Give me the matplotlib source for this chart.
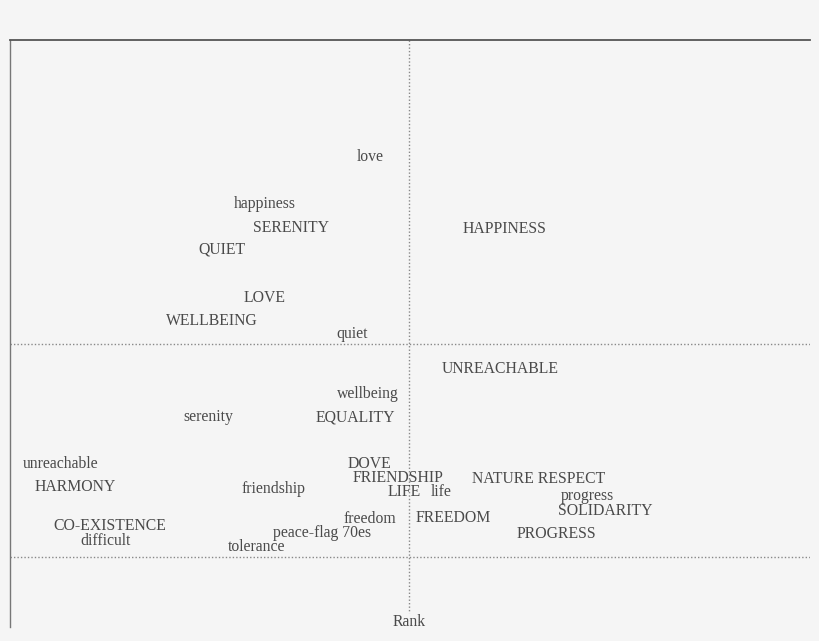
import numpy as np
import matplotlib
matplotlib.use('Agg')
import matplotlib.pyplot as plt

# word labels and their positions on the map
words = ['love', 'happiness', 'SERENITY', 'QUIET', 'HAPPINESS', 'LOVE', 'WELLBEING', 'quiet',
         'UNREACHABLE', 'wellbeing', 'serenity', 'EQUALITY',
         'unreachable', 'HARMONY', 'DOVE', 'FRIENDSHIP', 'LIFE', 'life', 'friendship',
         'NATURE RESPECT', 'progress', 'SOLIDARITY', 'CO-EXISTENCE', 'difficult',
         'freedom', 'FREEDOM', 'peace-flag 70es', 'tolerance', 'PROGRESS']
wx = [370, 265, 291, 222, 505, 265, 212, 352,
      500, 368, 208, 355,
      61, 75, 369, 398, 404, 441, 274,
      539, 587, 605, 110, 106,
      370, 453, 322, 257, 556]
wy = [157, 204, 228, 250, 229, 298, 321, 334,
      369, 394, 417, 417,
      464, 487, 464, 478, 492, 492, 489,
      479, 496, 511, 526, 541,
      519, 518, 533, 547, 534]

x_split = 409
y_splits = [344, 557]
axis_label = 'Rank'

bg = '#f5f5f5'
txt = '#4a4a4a'

fig = plt.figure(figsize=(8.2, 6.41), dpi=100, facecolor=bg)
ax = fig.add_axes([10 / 820, 14 / 641, 800 / 820, 587 / 641])
ax.set_facecolor(bg)
ax.set_xlim(10, 810)
ax.set_ylim(627, 40)
ax.set_xticks([])
ax.set_yticks([])
for s in ['right', 'bottom']:
    ax.spines[s].set_visible(False)
ax.spines['top'].set_color('#555555')
ax.spines['top'].set_linewidth(1.3)
ax.spines['left'].set_color('#777777')
ax.spines['left'].set_linewidth(1.0)

ax.vlines(x_split, 40, 613, colors='#888888', linestyles=(0, (1, 1.5)), linewidth=1)
for yy in y_splits:
    ax.hlines(yy, 10, 810, colors='#888888', linestyles=(0, (1, 1.5)), linewidth=1)

for w, x, y in zip(words, wx, wy):
    ax.text(x, y, w, ha='center', va='center', fontsize=11.3,
            family='Liberation Serif', color=txt)

ax.text(x_split, 622, axis_label, ha='center', va='center', fontsize=11.3,
        family='Liberation Serif', color=txt)

fig.savefig('out.png', dpi=100, facecolor=bg)
